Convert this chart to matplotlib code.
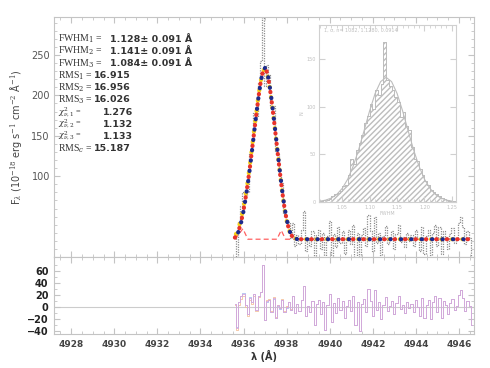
"""Line fit of a single emission line: three Gaussian fits, residuals, FWHM histogram."""

import matplotlib
matplotlib.use("Agg")
import matplotlib.pyplot as plt
import numpy as np


W, H = 490, 368

# --- spectrum (wavelength grid, 0.1 A) --------------------------------------
LAM0 = 4935.6
LAM_STEP = 0.1
N_PIX = 111

# fitted profiles over the line core (4935.6 .. 4938.4), continuum after that
FIT_CONT = 22.0
FIT1_CORE = [24, 28, 35, 45, 58, 74, 92, 112, 134, 156, 178, 199, 217, 230, 234,
             228, 213, 194, 172, 149, 125, 102, 80, 61, 46, 35, 28, 24, 23]
FIT2_CORE = [24, 27, 34, 44, 57, 73, 91, 111, 133, 156, 178, 199, 217, 230, 234,
             229, 214, 195, 173, 150, 126, 103, 81, 62, 47, 35, 28, 24, 23]
FIT3_CORE = [26, 31, 39, 49, 62, 77, 95, 115, 137, 159, 180, 201, 218, 230, 233,
             227, 212, 193, 171, 148, 124, 101, 79, 60, 45, 34, 27, 24, 23]

# residuals (data - fit 1)
RESID = [5, -35, 8, 18, 22, 3, -12, 15, 8, 22, -5, 18, 25, 70, -22, 10, 12, -8,
         15, -18, 3, -2, 12, -8, 0, 8, -5, 18, -10, 5, -6, 12, 35, -15, 2, -8,
         10, -30, 5, 12, -12, 8, -38, 4, 22, -25, 6, -10, 15, -5, 10, -18, 2,
         12, -6, 18, -30, 8, -40, 5, 14, -8, 30, 10, -15, 28, -5, 8, -20, 4, 16,
         -6, 2, 10, -12, 6, 18, -4, 3, -10, 8, -2, 5, -8, 12, 0, -15, 15, -18,
         4, 12, -20, 8, 18, -8, 15, -18, 10, 3, -12, 6, 14, -5, 2, 20, 28, 15,
         -6, 10, 2, -30]

# broad/wing component (red dashed)
WING_LAM = [4935.6, 4935.97, 4936.2, 4937.55, 4937.75, 4937.95, 4946.6]
WING_VAL = [22, 35, 22, 22, 33, 22, 22]

# --- FWHM Monte-Carlo histogram (inset) -------------------------------------
HIST_LEFT = 1.010
HIST_BIN = 0.005
HIST_COUNTS = [1, 2, 2, 3, 6, 8, 9, 12, 17, 18, 28, 45, 40, 55, 62, 70, 83, 90,
               103, 98, 118, 112, 124, 168, 128, 122, 118, 110, 105, 89, 95, 80,
               76, 58, 45, 43, 35, 28, 22, 18, 13, 11, 8, 6, 4, 3, 2, 1, 1]
GAUSS_X = [1.01, 1.02, 1.03, 1.04, 1.05, 1.06, 1.07, 1.08, 1.09, 1.10, 1.11,
           1.12, 1.13, 1.14, 1.15, 1.16, 1.17, 1.18, 1.19, 1.20, 1.21, 1.22,
           1.23, 1.24, 1.25]
GAUSS_Y = [0.9, 2.0, 4.1, 7.9, 14.3, 24.0, 37.7, 55.1, 75.3, 95.9, 114.1, 126.5,
           131.0, 126.5, 114.1, 95.9, 75.3, 55.1, 37.7, 24.0, 14.3, 7.9, 4.1,
           2.0, 0.9]

# --- annotation block --------------------------------------------------------
STAT_NAMES = [r"FWHM$_1$ =", r"FWHM$_2$ =", r"FWHM$_3$ =", r"RMS$_1$ =",
              r"RMS$_2$ =", r"RMS$_3$ =", r"$\chi^2_{\nu,1}$ =",
              r"$\chi^2_{\nu,2}$ =", r"$\chi^2_{\nu,3}$ =", r"RMS$_c$ ="]
STAT_VALS = ["1.128\u00b1 0.091 \u00c5", "1.141\u00b1 0.091 \u00c5",
             "1.084\u00b1 0.091 \u00c5", "16.915", "16.956", "16.026",
             "1.276", "1.132", "1.133", "15.187"]
STAT_X = [110, 110, 110, 94, 94, 94, 103, 103, 103, 94]

X_TICKS = [4928, 4930, 4932, 4934, 4936, 4938, 4940, 4942, 4944, 4946]

FRAME = "#c4c4c4"


def px_axes(fig, l, t, r, b):
    return fig.add_axes([l / W, 1 - b / H, (r - l) / W, (b - t) / H])


def style_frame(ax, color=FRAME):
    for s in ax.spines.values():
        s.set_color(color)
        s.set_linewidth(0.8)
    ax.tick_params(which="both", direction="in", top=True, right=True,
                   color=color)
    ax.tick_params(which="major", length=4)
    ax.tick_params(which="minor", length=2)


plt.rcParams["hatch.color"] = "#cfcfcf"
plt.rcParams["mathtext.fontset"] = "dejavuserif"

lam = LAM0 + LAM_STEP * np.arange(N_PIX)
tail = np.full(N_PIX - len(FIT1_CORE), FIT_CONT)
fit1 = np.concatenate([FIT1_CORE, tail])
fit2 = np.concatenate([FIT2_CORE, tail])
fit3 = np.concatenate([FIT3_CORE, tail])
flux = fit1 + np.array(RESID)

fig = plt.figure(figsize=(W / 100, H / 100), dpi=100)

# top panel
ax = px_axes(fig, 54, 17, 474, 257)
ax.plot(lam, flux, drawstyle="steps-mid", ls=(0, (1, 1)), lw=0.9,
        color="#8c8c8c", zorder=2)
ax.plot(WING_LAM, WING_VAL, ls=(0, (4, 2.5)), lw=0.9, color="#ff6060", zorder=3)
for f, c, off in [(fit3, "#f7cf1a", 2), (fit2, "#1c2a8c", 1), (fit1, "#e8322a", 0)]:
    ax.plot(lam, f, ls=(off, (0.1, 2.4)), lw=3.0, color=c,
            solid_capstyle="round", dash_capstyle="round", zorder=4)
ax.set_xlim(4927.2, 4946.7)
ax.set_ylim(0, 297)
ax.set_yticks([100, 150, 200, 250])
ax.set_yticks(np.arange(0, 300, 10), minor=True)
ax.set_xticks(X_TICKS)
ax.set_xticks(np.arange(4927.5, 4947, 0.5), minor=True)
ax.set_xticklabels([])
style_frame(ax)
ax.tick_params(axis="y", labelsize=7, labelcolor="#555555", pad=3)
ax.set_ylabel("F$_\\lambda$ (10$^{-18}$ erg s$^{-1}$ cm$^{-2}$ \u00c5$^{-1}$)",
              fontsize=7, color="#444444", labelpad=5)

# bottom panel (residuals)
axr = px_axes(fig, 54, 257, 474, 334)
axr.axhline(0, color="#cccccc", lw=0.8, zorder=1)
for f, c in [(fit3, "#f4c09a"), (fit2, "#a9bff0"), (fit1, "#d9a6d9")]:
    axr.plot(lam, flux - f, drawstyle="steps-mid", lw=0.7, color=c,
             alpha=0.85, zorder=2)
axr.set_xlim(4927.2, 4946.7)
axr.set_ylim(-45, 83)
axr.set_yticks([-40, -20, 0, 20, 40, 60])
axr.set_yticks(np.arange(-40, 80, 10), minor=True)
axr.set_xticks(X_TICKS)
axr.set_xticks(np.arange(4927.5, 4947, 0.5), minor=True)
style_frame(axr)
axr.tick_params(axis="y", labelsize=7, labelcolor="#222222", pad=4)
axr.tick_params(axis="x", labelsize=6.5, labelcolor="#444444", pad=4)
for t in axr.get_yticklabels() + axr.get_xticklabels():
    t.set_fontweight("bold")
axr.set_xlabel("\u03bb (\u00c5)", fontsize=7, fontweight="bold",
               color="#333333", labelpad=1)

# stats text block
for i, (name, val, vx) in enumerate(zip(STAT_NAMES, STAT_VALS, STAT_X)):
    y = 1 - (39 + 12.2 * i) / H
    fs = 5.9 if "chi" in name else 7
    fig.text(58 / W, y, name, fontsize=fs, family="Liberation Serif",
             color="#333333", va="center")
    fig.text(vx / W, y, val, fontsize=6.8, fontweight="bold",
             color="#333333", va="center")

# inset: FWHM histogram
ins = px_axes(fig, 319, 25, 456, 202)
edges = HIST_LEFT + HIST_BIN * np.arange(len(HIST_COUNTS) + 1)
ins.stairs(HIST_COUNTS, edges, fill=True, facecolor="none", edgecolor="#bdbdbd",
           hatch="//////", lw=0.6)
ins.stairs(HIST_COUNTS, edges, color="#bdbdbd", lw=0.7)
ins.plot(GAUSS_X, GAUSS_Y, color="#bdbdbd", lw=0.8)
ins.set_xlim(1.0076, 1.2575)
ins.set_ylim(0, 186)
ins.set_xticks([1.05, 1.10, 1.15, 1.20, 1.25])
ins.set_xticklabels(["1.05", "1.10", "1.15", "1.20", "1.25"])
ins.set_yticks([0, 50, 100, 150])
ins.set_xticks(np.arange(1.01, 1.26, 0.01), minor=True)
style_frame(ins, "#d0d0d0")
ins.tick_params(labelsize=3.5, labelcolor="#c0c0c0", pad=2)
ins.set_xlabel("FWHM", fontsize=3.5, color="#c0c0c0", labelpad=1)
ins.set_ylabel("N", fontsize=3.5, color="#c0c0c0", labelpad=2)
ins.text(0.04, 0.985, "1, \u03c3, n= 1082, 1.1280, 0.0914", transform=ins.transAxes,
         fontsize=3.5, color="#c0c0c0", va="top")

fig.savefig("out.png", dpi=100)
